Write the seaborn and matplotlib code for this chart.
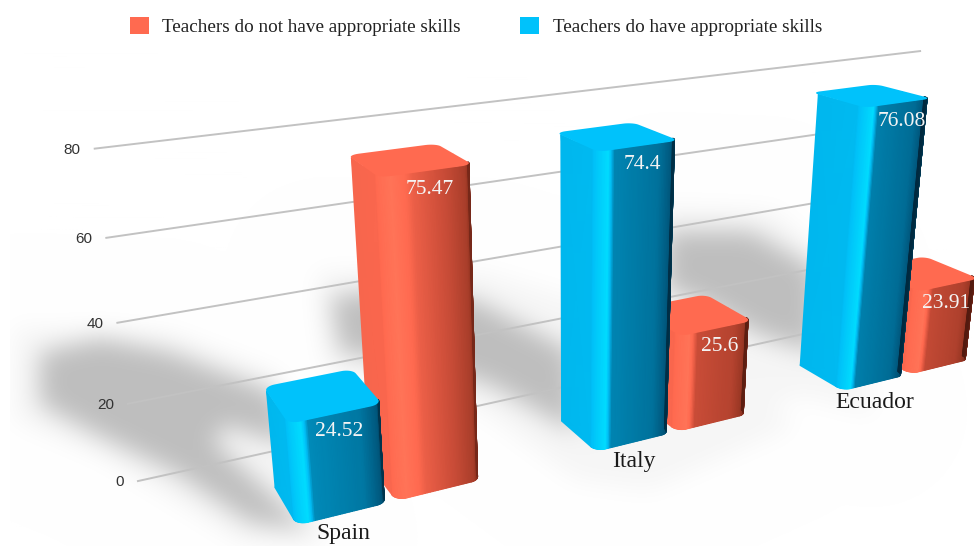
import numpy as np
import pandas as pd
import matplotlib
matplotlib.use("Agg")
import matplotlib.pyplot as plt
import seaborn as sns
from matplotlib.colors import LinearSegmentedColormap
from matplotlib.patches import Patch, Polygon
from matplotlib.path import Path
from matplotlib.transforms import Transform

# Data
countries = ["Spain", "Italy", "Ecuador"]
skills_no = [75.47, 25.6, 23.91]
skills_yes = [24.52, 74.4, 76.08]
value_labels_no = ["75.47", "25.6", "23.91"]
value_labels_yes = ["24.52", "74.4", "76.08"]
y_ticks = [0, 20, 40, 60, 80]

LABEL_NO = "Teachers do not have appropriate skills"
LABEL_YES = "Teachers do have appropriate skills"
RED = "#ff6a50"
BLUE = "#00c2fb"

W, H = 974, 546

# Perspective camera, from the vanishing points of the picture
ORIGIN = (297, 525)
VP_X, VP_Y, VP_Z = (3417, -244), (570, 3800), (-112, -170)
K_X, K_Y, K_Z = 0.106, -0.00122, 0.065
X0 = -0.296
WALL_Z = 1.723


def project(x, y, z):
    t = K_X * (np.asarray(x, float) - X0)
    s = K_Y * np.asarray(y, float)
    d = K_Z * np.asarray(z, float)
    w = 1 + t + s + d
    px = (ORIGIN[0] + t * VP_X[0] + s * VP_Y[0] + d * VP_Z[0]) / w
    py = (ORIGIN[1] + t * VP_X[1] + s * VP_Y[1] + d * VP_Z[1]) / w
    return px, py


class Perspective(Transform):
    input_dims = 2
    output_dims = 2
    is_affine = False

    def __init__(self, plane_z):
        super().__init__()
        self.plane_z = plane_z

    def transform_non_affine(self, values):
        values = np.asarray(values, float)
        px, py = project(values[:, 0], values[:, 1], self.plane_z)
        return np.column_stack([px, H - py])


def rounded_plan(x0, x1, rx=0.035, rz=0.13, n=10):
    # outline of a bar seen from above, clockwise from the back left corner
    a = np.linspace(0, np.pi / 2, n)
    xs, zs = [], []
    for cx, cz, ca, sa in [
        (x0 + rx, 1 - rz, -np.cos(a), np.sin(a)),
        (x1 - rx, 1 - rz, np.sin(a), np.cos(a)),
        (x1 - rx, rz, np.cos(a), -np.sin(a)),
        (x0 + rx, rz, -np.sin(a), -np.cos(a)),
    ]:
        xs.append(cx + rx * ca)
        zs.append(cz + rz * sa)
    return np.concatenate(xs), np.concatenate(zs)


def visible_side(x0, x1, rx=0.035, rz=0.13, n=24):
    # left face, front corner, front face, right corner
    a = np.linspace(0, np.pi / 2, n)
    xs = [np.array([x0]), x0 + rx - rx * np.cos(a), np.linspace(x0 + rx, x1 - rx, 40)[1:-1], x1 - rx + rx * np.sin(a)]
    zs = [np.array([1 - rz]), rz - rz * np.sin(a), np.zeros(38), rz - rz * np.cos(a)]
    return np.concatenate(xs), np.concatenate(zs), n + 1


def blur(img, sigma):
    pad = 80
    big = np.pad(img, pad)
    fy = np.fft.fftfreq(big.shape[0])[:, None]
    fx = np.fft.rfftfreq(big.shape[1])[None, :]
    g = np.exp(-2 * (np.pi * sigma) ** 2 * (fx ** 2 + fy ** 2))
    out = np.fft.irfft2(np.fft.rfft2(big) * g, s=big.shape)
    return out[pad:-pad, pad:-pad]


# Soft shadows on the floor, as in the picture
shadow_cores = [
    [(40, 352), (100, 338), (170, 352), (275, 392), (290, 445), (225, 425), (212, 440), (310, 530),
     (250, 522), (175, 472), (100, 436), (40, 404)],
    [(330, 296), (400, 288), (475, 300), (570, 350), (575, 432), (490, 384), (420, 362), (340, 352)],
    [(665, 230), (750, 230), (815, 268), (815, 352), (760, 335), (700, 300), (665, 290)],
]
shadow_halos = [
    [(14, 326), (170, 332), (280, 375), (325, 542), (240, 542), (100, 455), (14, 420)],
    [(315, 270), (480, 270), (680, 330), (795, 425), (650, 490), (575, 480), (480, 410), (325, 370)],
    [(655, 205), (775, 210), (835, 265), (875, 415), (800, 395), (760, 410), (665, 300)],
]
gy, gx = np.mgrid[0:H, 0:W]
grid = np.column_stack([gx.ravel(), gy.ravel()])


def fill_mask(polys):
    out = np.zeros((H, W))
    for poly in polys:
        out += Path(poly).contains_points(grid).reshape(H, W)
    return np.clip(out, 0, 1)


core = np.clip(blur(fill_mask(shadow_cores), 12), 0, 1)
halo = np.clip(blur(fill_mask(shadow_halos), 12), 0, 1)
grey = 255 - 56 * core - 9 * halo
grey[:, :10] = 255
shadow_img = np.dstack([grey / 255] * 3)

df = pd.DataFrame({
    "country": countries * 2,
    "value": skills_yes + skills_no,
    "group": [LABEL_YES] * 3 + [LABEL_NO] * 3,
})

fig = plt.figure(figsize=(W / 100, H / 100), dpi=100, facecolor="white")
fig.figimage(shadow_img, origin="upper", zorder=-1)
ax = fig.add_axes([0, 0, 1, 1])
palette = {LABEL_YES: BLUE, LABEL_NO: RED}
sns.barplot(data=df, x="country", y="value", hue="group", hue_order=[LABEL_YES, LABEL_NO],
            order=countries, palette=palette, width=0.62, gap=0.09, saturation=1,
            legend=False, ax=ax)
ax.set_xlim(-1, 3)
ax.set_ylim(0, 100)
ax.axis("off")

# second axes in picture pixels, for the shaded sides and all the text
canvas = fig.add_axes([0, 0, 1, 1])
canvas.set_xlim(0, W)
canvas.set_ylim(H, 0)
canvas.axis("off")

front = Perspective(0)
inner = Perspective(0.5)
wall = Perspective(WALL_Z)

cmaps = {
    "blue": LinearSegmentedColormap.from_list("b", [(0, "#00263a"), (0.3, "#005a80"), (0.55, "#0088b6"),
                                                    (0.8, "#00c0f8"), (1, "#00dcff")]),
    "red": LinearSegmentedColormap.from_list("r", [(0, "#3d1108"), (0.3, "#9c3825"), (0.55, "#cf4f3a"),
                                                   (0.8, "#ff6a50"), (1, "#ff7458")]),
}

# Gridlines and tick labels on the back wall
x_left, x_right = -0.673, 2.366
for tick in y_ticks:
    ax.plot([x_left, x_right], [tick, tick], color="#c2c2c2", lw=1.4, transform=wall, clip_on=False, zorder=1)
    canvas.annotate(str(tick), (x_left, tick), xycoords=wall, xytext=(-14, -1), textcoords="offset pixels",
                    ha="right", va="center", family="Liberation Sans", fontsize=11, color="#333333")

# Turn every seaborn bar into a box, far bars first
bars = sorted([p for p in ax.patches if p.get_height() > 0], key=lambda p: -p.get_x())
labels_by_value = dict(zip(skills_yes + skills_no, value_labels_yes + value_labels_no))
for i, bar in enumerate(bars):
    x0, x1, height = bar.get_x(), bar.get_x() + bar.get_width(), bar.get_height()
    is_red = height in skills_no
    name = "red" if is_red else "blue"
    z = 5 + i
    bar.set_transform(inner)
    bar.set_clip_on(False)
    bar.set_zorder(z)

    xs, zs, n_left = visible_side(x0, x1)
    frac = (xs - x0) / (x1 - x0)
    if is_red and x0 < 0.5:
        shade_front = np.interp(frac, [0.13, 0.35, 0.72, 0.92, 1], [0.98, 0.7, 0.5, 0.36, 0.18])
    else:
        knee = 0.24 if is_red else 0.2
        edge = 0.14 if is_red else 0.08
        shade_front = np.interp(frac, [0.13, knee, 0.75, 0.95, 1], [1.0, 0.56, 0.46, 0.28, edge]) - 0.03 * (x0 + 0.3)
    shade = np.concatenate([np.linspace(0.76, 1.0, n_left), shade_front[n_left:]])
    bottom = np.array(project(xs, np.zeros_like(xs), zs))
    top = np.array(project(xs, np.full_like(xs, height), zs))
    mesh_x = np.vstack([bottom[0], top[0]])
    mesh_y = np.vstack([bottom[1], top[1]])
    canvas.pcolormesh(mesh_x, mesh_y, np.vstack([shade, shade]), shading="gouraud", cmap=cmaps[name],
                      vmin=0, vmax=1, zorder=z + 0.1, clip_on=False)

    plan_x, plan_z = rounded_plan(x0, x1)
    tx, ty = project(plan_x, np.full_like(plan_x, height), plan_z)
    canvas.add_patch(Polygon(np.column_stack([tx, ty]), closed=True, facecolor=RED if is_red else BLUE,
                             edgecolor="none", zorder=z + 0.2, clip_on=False))

    # the last label sits against the picture edge
    label_dx = -3 if is_red and x0 > 1.5 else 3
    canvas.annotate(labels_by_value[height], ((x0 + x1) / 2, height), xycoords=front, xytext=(label_dx, -18),
                    textcoords="offset pixels", ha="center", va="center", family="Liberation Serif",
                    fontsize=15.5, color="#f4f4f4", zorder=50, annotation_clip=False)

canvas.set_xlim(0, W)
canvas.set_ylim(H, 0)

# Country names under the front of each pair
for pos, name in enumerate(countries):
    canvas.annotate(name, (pos - 0.154, 0), xycoords=front, xytext=(0, -20), textcoords="offset pixels",
                    ha="center", va="center", family="Liberation Serif", fontsize=17, color="#1a1a1a", zorder=50)

handles = [Patch(facecolor=RED, label=LABEL_NO), Patch(facecolor=BLUE, label=LABEL_YES)]
leg = canvas.legend(handles=handles, loc="upper left", bbox_to_anchor=(129.5 / W, 1 - 17 / H),
                    bbox_transform=fig.transFigure, ncols=2, frameon=False, borderpad=0, borderaxespad=0,
                    handlelength=1.0, handleheight=1.0, handletextpad=0.72, columnspacing=3.05,
                    prop={"family": "Liberation Serif", "size": 13.8})
for text in leg.get_texts():
    text.set_color("#222222")

fig.savefig("out.png", dpi=100)
